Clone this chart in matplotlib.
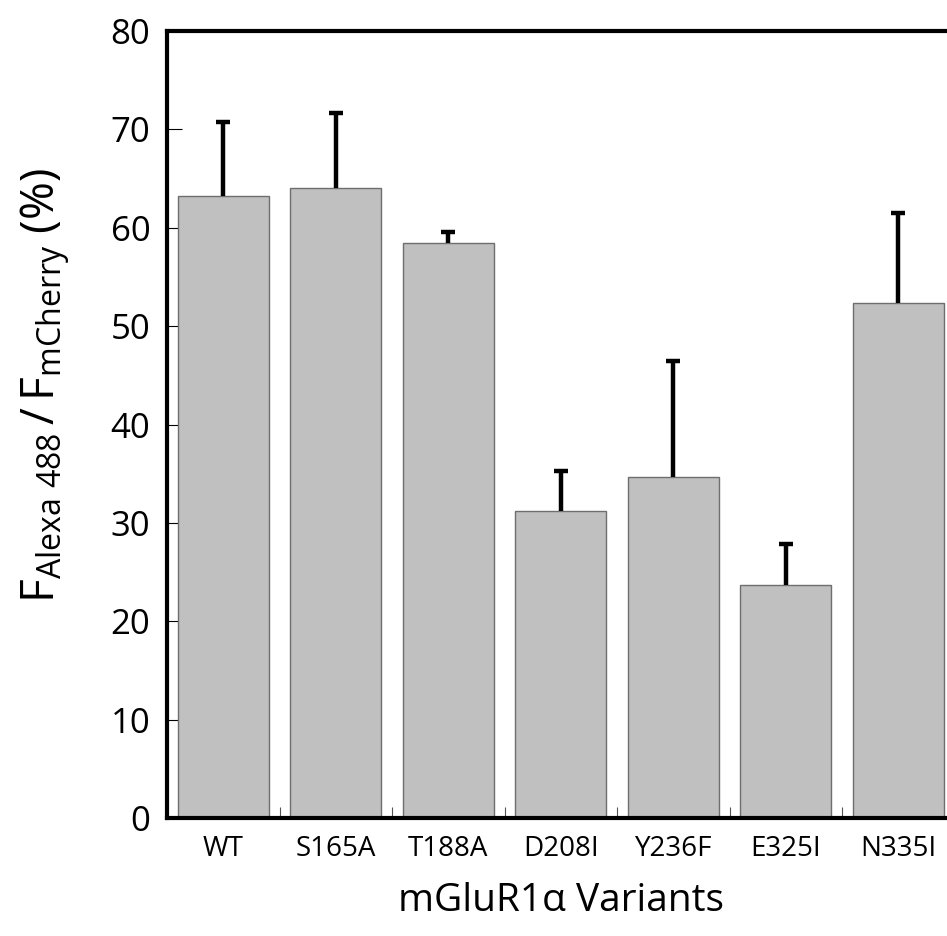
import matplotlib
matplotlib.use("Agg")
import matplotlib.pyplot as plt
import numpy as np

plt.rcParams['font.family'] = ['Open Sans', 'DejaVu Sans']
plt.rcParams['mathtext.fontset'] = 'custom'
plt.rcParams['mathtext.rm'] = 'Open Sans'
plt.rcParams['mathtext.it'] = 'Open Sans'

# data
variants = ['WT', 'S165A', 'T188A', 'D208I', 'Y236F', 'E325I', 'N335I']
ratio = [63.2, 64.0, 58.5, 31.2, 34.7, 23.7, 52.4]
err_up = [7.6, 7.7, 1.1, 4.1, 11.8, 4.2, 9.1]

fig = plt.figure(figsize=(9.47, 9.36), dpi=100)
ax = fig.add_axes([167 / 947, 1 - 818 / 936, 787.5 / 947, 787 / 936])

x = np.arange(len(variants))
ax.bar(x, ratio, width=0.81, color='#c0c0c0', edgecolor='#6e6e6e', linewidth=1.0, zorder=2)
eb = ax.errorbar(x, ratio, yerr=[np.zeros(len(err_up)), err_up], fmt='none',
                 ecolor='black', elinewidth=3.2, capsize=4.8, capthick=3.2, zorder=3)
# only the upper cap is drawn in the original
eb[1][0].set_visible(False)

ax.set_xlim(-0.5, len(variants) - 0.5)
ax.set_ylim(0, 80)
ax.set_yticks(np.arange(0, 81, 10))
ax.tick_params(axis='y', direction='in', length=11, width=0.8, labelsize=25, pad=12)
ax.set_xticks(x)
ax.set_xticklabels(variants)
ax.tick_params(axis='x', which='major', length=0, labelsize=20, pad=12)
ax.set_xticks(x[:-1] + 0.5, minor=True)
ax.tick_params(axis='x', which='minor', direction='in', length=8, width=0.8, color='#555555')

for s in ['left', 'top', 'bottom']:
    ax.spines[s].set_linewidth(3)
ax.spines['right'].set_visible(False)

ax.set_xlabel('mGluR1\u03b1 Variants', fontsize=28, labelpad=14)
fig.text(45 / 947, 1 - 386 / 936,
         r'$\mathregular{F_{Alexa\ 488}\,/\,F_{mCherry}}$ (%)',
         rotation=90, ha='center', va='center', fontsize=33)

fig.savefig('out.png', dpi=100)
